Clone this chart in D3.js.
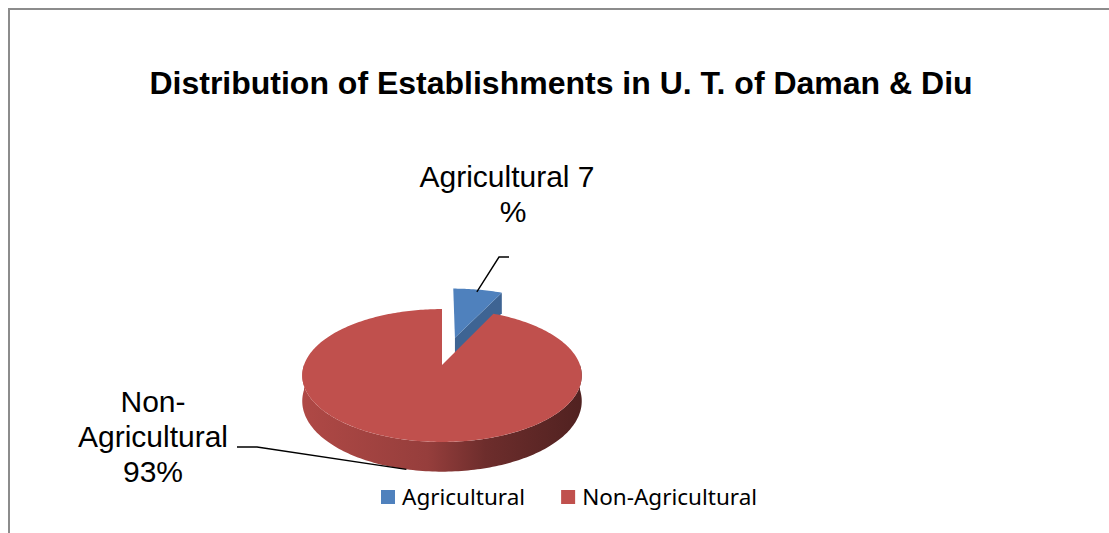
<!DOCTYPE html>
<html>
<head>
<meta charset="utf-8">
<script src="https://cdn.jsdelivr.net/npm/d3@7"></script>
<style>
  body { margin: 0; background: #fff; }
  svg { display: block; }
</style>
</head>
<body>
<div class="chart"></div>
<script>
const width = 1109;
const height = 533;

// Data
const title = 'Distribution of Establishments in U. T. of Daman & Diu';
const categories = ['Agricultural', 'Non-Agricultural'];
const values = [7, 93];
const colors = ['#4F81BD', '#C0504D'];
const explodeBy = [0.46, 0];
const labelLines = [['Agricultural 7', '%'], ['Non-', 'Agricultural', '93%']];

const svg = d3.select('.chart')
  .append('svg')
    .attr('width', width)
    .attr('height', height);

// chart frame (cut off by the window on the right and bottom)
svg.append('rect')
  .attr('x', 9)
  .attr('y', 9)
  .attr('width', width)
  .attr('height', height)
  .attr('fill', 'none')
  .attr('stroke', '#8c8c8c')
  .attr('stroke-width', 2);

svg.append('text')
  .attr('x', 561)
  .attr('y', 94)
  .attr('text-anchor', 'middle')
  .style('font-family', '"Liberation Sans", Arial, sans-serif')
  .style('font-weight', 'bold')
  .style('font-size', '32px')
  .text(title);

// 3D pie: tilted disc with a bit of perspective
const cx = 442, cy = 365, rx = 138, ry = 64.8, depth = 25, persp = 0.158;
const xScale = d3.scaleLinear().domain([-1, 1]).range([cx - rx, cx + rx]);
const yScale = d3.scaleLinear().domain([-1, 1]).range([cy - ry, cy + ry]);

function project(theta, r, h, ex) {
  const X = r * Math.sin(theta) + ex[0];
  const Z = -r * Math.cos(theta) + ex[1];
  const s = 1 / (1 - persp * Z);
  return [xScale(X * s), yScale(Z * s) + depth * h * s];
}

function rim(a0, a1, h, ex) {
  const n = Math.max(2, Math.ceil(Math.abs(a1 - a0) / 0.02));
  return d3.range(n + 1).map(i => project(a0 + (a1 - a0) * i / n, 1, h, ex));
}

const arcs = d3.pie().sort(null).value(d => d)(values);
const line = d3.line();
const defs = svg.append('defs');
const pieG = svg.append('g');

arcs.forEach((a, i) => {
  const mid = (a.startAngle + a.endAngle) / 2;
  const ex = [explodeBy[i] * Math.sin(mid), -explodeBy[i] * Math.cos(mid)];
  a.ex = ex;
  const base = d3.color(colors[i]);

  // side gradient, light on the left to dark on the right
  const grad = defs.append('linearGradient')
    .attr('id', 'side' + i)
    .attr('gradientUnits', 'userSpaceOnUse')
    .attr('x1', cx - rx * 1.05).attr('x2', cx + rx * 1.05)
    .attr('y1', 0).attr('y2', 0);
  [[0, 0.25], [0.45, 0.7], [0.65, 1.6], [1, 2.5]].forEach(([o, k]) => {
    grad.append('stop').attr('offset', o).attr('stop-color', base.darker(k).formatHex());
  });

  const g = pieG.append('g').attr('class', 'slice');

  // cut faces facing the viewer
  [[a.endAngle, Math.sin(a.endAngle) > 0.01], [a.startAngle, Math.sin(a.startAngle) < -0.01]]
    .forEach(([ang, show]) => {
      if (!show) return;
      const pts = [project(0, 0, 0, ex), project(ang, 1, 0, ex), project(ang, 1, 1, ex), project(0, 0, 1, ex)];
      g.append('path')
        .attr('d', line(pts) + 'Z')
        .attr('fill', base.darker(0.7).formatHex());
    });

  // outer side on the near half
  const s0 = Math.max(a.startAngle, Math.PI / 2);
  const s1 = Math.min(a.endAngle, Math.PI * 1.5);
  if (s1 > s0) {
    const pts = rim(s0, s1, 0, ex).concat(rim(s1, s0, 1, ex));
    g.append('path')
      .attr('d', line(pts) + 'Z')
      .attr('fill', 'url(#side' + i + ')');
  }

  // top face
  const top = [project(0, 0, 0, ex)].concat(rim(a.startAngle, a.endAngle, 0, ex));
  g.append('path')
    .attr('d', line(top) + 'Z')
    .attr('fill', colors[i]);
});

// data labels with leader lines
const labelFont = '"Liberation Sans", Arial, sans-serif';
const labelPos = [{ x: 507, y: 187 }, { x: 153, y: 412 }];
const lineH = 35;

labelLines.forEach((lines, i) => {
  const t = svg.append('text')
    .attr('text-anchor', 'middle')
    .style('font-family', labelFont)
    .style('font-size', '30px')
    .attr('fill', '#000');
  lines.forEach((s, j) => {
    t.append('tspan')
      .attr('x', labelPos[i].x + (i === 0 && j === 1 ? 6 : 0))
      .attr('y', labelPos[i].y + j * lineH)
      .text(s);
  });
});

// Agricultural leader: from top face rim up to the label
const a0 = arcs[0];
const agStart = project((a0.startAngle + a0.endAngle) / 2, 0.95, 0, a0.ex);
svg.append('path')
  .attr('d', line([agStart, [499, 257], [509, 257]]))
  .attr('fill', 'none')
  .attr('stroke', '#000')
  .attr('stroke-width', 1.4);

// Non-Agricultural leader: from the label to the bottom of the side
const a1 = arcs[1];
const naEnd = project((a1.startAngle + a1.endAngle) / 2, 1, 1, a1.ex);
svg.append('path')
  .attr('d', line([[237, 447], [257, 447], naEnd]))
  .attr('fill', 'none')
  .attr('stroke', '#000')
  .attr('stroke-width', 1.4);

// legend
const legend = svg.append('g').attr('class', 'legend');
let lx = 381;
categories.forEach((c, i) => {
  legend.append('rect')
    .attr('x', lx)
    .attr('y', 490)
    .attr('width', 14)
    .attr('height', 14)
    .attr('fill', colors[i]);
  const txt = legend.append('text')
    .attr('x', lx + 21)
    .attr('y', 505)
    .style('font-family', '"Noto Sans", sans-serif')
    .style('font-size', '22.5px')
    .attr('fill', '#000')
    .text(c);
  lx += 21 + txt.node().getComputedTextLength() + 36;
});
</script>
</body>
</html>
